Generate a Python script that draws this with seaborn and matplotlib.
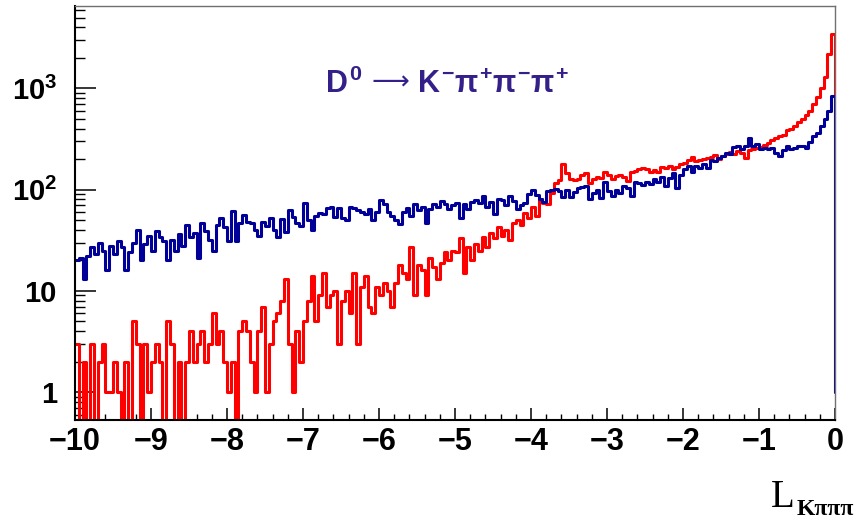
import numpy as np
import matplotlib
matplotlib.use("Agg")
import matplotlib.pyplot as plt
import seaborn as sns
from matplotlib.ticker import MultipleLocator, FixedLocator, FixedFormatter, LogLocator, NullFormatter

# 200 bins of width 0.05 covering L in [-10, 0]
bin_edges = np.linspace(-10.0, 0.0, 201)

# Bin contents of the D0 -> K- pi+ pi- pi+ sample (red)
signal_counts = [
    3, 0, 2, 0, 3, 0, 2, 3, 1, 1, 2, 1, 0, 2, 0, 5, 3, 0, 3, 1,
    2, 3, 2, 0, 5, 3, 0, 2, 0, 2, 4, 2, 3, 4, 2, 3, 6, 3, 4, 2,
    1, 2, 0, 4, 5, 4, 2, 1, 4, 7,
    1, 3, 5, 6, 8, 13, 3, 1, 4, 2, 5, 8, 14, 5, 9, 15, 7, 9, 10, 3,
    8, 10, 6, 15, 3, 11, 14, 7, 6, 11, 9, 12, 10, 7, 12, 18, 15, 13, 27, 9,
    18, 16, 9, 21, 17, 13, 19, 24, 20, 25,
    24, 33, 15, 27, 20, 29, 25, 34, 27, 37, 33, 43, 35, 40, 32, 47, 50, 45, 59, 52,
    68, 55, 80, 74, 72, 93, 115, 125, 177, 147, 128, 125, 127, 140, 145, 117, 128, 133, 130, 150,
    138, 126, 135, 140, 132, 122, 148, 152, 158, 163,
    160, 150, 155, 148, 168, 165, 172, 160, 168, 178, 185, 195, 208, 190, 196, 200, 205, 210, 218, 200,
    215, 222, 235, 225, 238, 230, 205, 245, 250, 255, 262, 278, 290, 310, 320, 335, 345, 385, 400, 425,
    465, 500, 545, 600, 700, 820, 1000, 1300, 2200, 3400,
]

# Bin contents of the background sample (blue)
background_counts = [
    20, 21, 13, 22, 27, 23, 30, 25, 16, 28, 23, 31, 27, 16, 24, 30, 40, 20, 29, 35,
    25, 39, 34, 31, 20, 32, 25, 36, 28, 45, 34, 37, 21, 47, 39, 32, 25, 45, 52, 43,
    31, 61, 31, 47, 56, 48, 47, 40, 35, 48,
    44, 52, 40, 34, 51, 38, 63, 54, 47, 44, 74, 50, 40, 55, 59, 57, 66, 68, 53, 66,
    52, 50, 68, 66, 63, 60, 57, 64, 50, 60, 78, 72, 60, 55, 50, 46, 60, 66, 55, 72,
    63, 68, 47, 65, 72, 68, 77, 72, 64, 70,
    74, 52, 72, 64, 75, 78, 74, 86, 68, 76, 58, 80, 79, 71, 86, 77, 65, 70, 74, 90,
    98, 88, 80, 75, 96, 100, 102, 96, 84, 100, 85, 95, 103, 106, 108, 80, 93, 100, 82, 120,
    96, 86, 100, 92, 108, 104, 86, 120, 116, 112,
    120, 114, 126, 118, 134, 108, 130, 146, 104, 140, 158, 170, 150, 170, 162, 178, 165, 198, 190, 205,
    214, 231, 222, 262, 270, 250, 272, 320, 268, 280, 250, 258, 249, 258, 231, 214, 245, 268, 249, 255,
    270, 268, 258, 295, 337, 364, 423, 493, 600, 839,
]

# Outline closes down to this level at the right edge
BASELINE = 1.0

x_ticks = list(range(-10, 1))
y_ticks = [1, 10, 100, 1000]
y_tick_labels = ["1", "10", r"$10^{2}$", r"$10^{3}$"]

SIGNAL_COLOR = "#ff0000"
BACKGROUND_COLOR = "#000099"
TITLE_COLOR = "#35208a"

sns.set_theme(style="white")
plt.rcParams["font.family"] = ["Liberation Sans", "DejaVu Sans"]
plt.rcParams["font.weight"] = "bold"
for key in ("text.color", "axes.labelcolor", "xtick.color", "ytick.color"):
    plt.rcParams[key] = "black"
plt.rcParams["mathtext.fontset"] = "custom"
for key in ("rm", "it", "bf", "sf"):
    plt.rcParams[f"mathtext.{key}"] = "Liberation Sans:bold"


def outline(counts):
    """Step outline of a histogram; empty bins sink below the log axis."""
    c = np.asarray(counts, dtype=float)
    c = np.where(c > 0, c, 1e-3)
    x = np.r_[bin_edges, bin_edges[-1]]
    y = np.r_[c, c[-1], BASELINE]
    return x, y


fig = plt.figure(figsize=(8.6, 5.23), dpi=100)
ax = fig.add_axes([75 / 860, 1 - 420 / 523, 760 / 860, 414 / 523])

for counts, color in ((signal_counts, SIGNAL_COLOR), (background_counts, BACKGROUND_COLOR)):
    xs, ys = outline(counts)
    sns.lineplot(x=xs, y=ys, estimator=None, sort=False, drawstyle="steps-post",
                 color=color, linewidth=2.2, ax=ax)

ax.set_yscale("log")
ax.set_xlim(-10, 0)
ax.set_ylim(0.53, 6500)
ax.set_xlabel("")
ax.set_ylabel("")

ax.xaxis.set_major_locator(FixedLocator(x_ticks))
ax.xaxis.set_minor_locator(MultipleLocator(0.2))
ax.yaxis.set_major_locator(FixedLocator(y_ticks))
ax.yaxis.set_major_formatter(FixedFormatter(y_tick_labels))
ax.yaxis.set_minor_locator(LogLocator(base=10, subs=np.arange(2, 10)))
ax.yaxis.set_minor_formatter(NullFormatter())

ax.tick_params(axis="x", which="major", direction="in", length=8.6, width=1.1,
               labelsize=22, pad=5, bottom=True, top=False)
ax.tick_params(axis="x", which="minor", direction="in", length=4.3, width=1.0,
               bottom=True, top=False)
ax.tick_params(axis="y", which="major", direction="in", length=15, width=1.1,
               labelsize=21, pad=13, left=True, right=False)
ax.tick_params(axis="y", which="minor", direction="in", length=7, width=1.0,
               left=True, right=False)
for lab in ax.get_xticklabels() + ax.get_yticklabels():
    lab.set_fontweight("bold")

for side in ("left", "bottom"):
    ax.spines[side].set_color("black")
    ax.spines[side].set_linewidth(1.5)
for side in ("top", "right"):
    ax.spines[side].set_color("#707070")
    ax.spines[side].set_linewidth(1.0)

# Decay label: D0, a long thin arrow, then the final state
title_base = 1 - 93 / 523
fig.text(362 / 860, title_base, r"$D^{0}$", ha="right", va="baseline",
         fontsize=22, color=TITLE_COLOR)
fig.text(390 / 860, 1 - 83 / 523, "\u27f6", ha="center", va="center",
         fontsize=19, family="DejaVu Sans", fontweight="normal", color=TITLE_COLOR)
fig.text(417 / 860, title_base, r"$K^{-}\pi^{+}\pi^{-}\pi^{+}$", ha="left", va="baseline",
         fontsize=22, color=TITLE_COLOR)

fig.text(771 / 860, 1 - 507 / 523, "L", ha="left", va="baseline",
         fontsize=28, family="Liberation Serif", fontweight="normal")
fig.text(797 / 860, 1 - 515 / 523, "Kπππ", ha="left", va="baseline",
         fontsize=17, family="Liberation Serif", fontweight="bold")

fig.savefig("out.png", dpi=100, facecolor="white")
